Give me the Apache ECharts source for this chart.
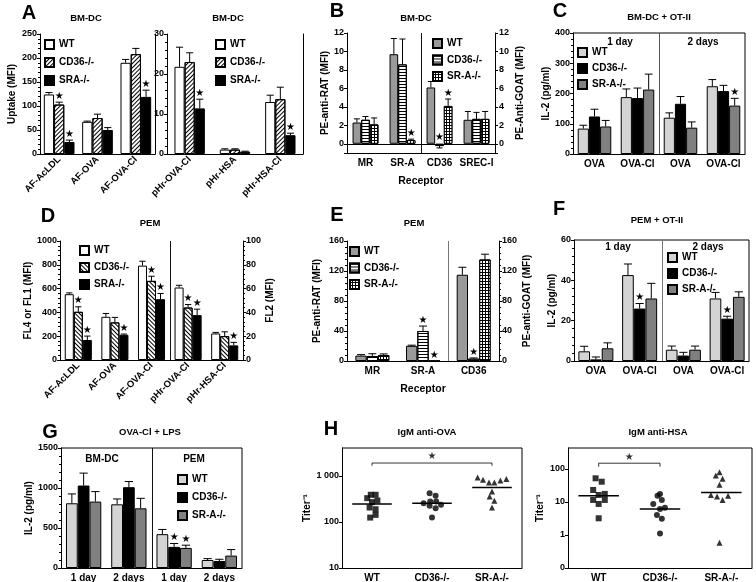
<!DOCTYPE html>
<html>
<head>
<meta charset="utf-8">
<script src="https://cdn.jsdelivr.net/npm/echarts@6/dist/echarts.min.js"></script>
<style>html,body{margin:0;padding:0;background:#fff}#chart{width:756px;height:582px}</style>
</head>
<body>
<div id="chart"></div>
<script>
var chart = echarts.init(document.getElementById('chart'));
var F = 'Liberation Sans, Arial, sans-serif';

// ---------- data ----------
// A: BM-DC uptake, AF probes
var catA1 = ['AF-AcLDL', 'AF-OVA', 'AF-OVA-Cl'];
var a1WT = [124, 67, 190], a1WTe = [4, 1.5, 7];
var a1CD = [103, 75, 208], a1CDe = [5, 8, 12];
var a1SR = [25, 50, 119], a1SRe = [4, 5, 14];
var a1CDs = [1, 0, 0], a1SRs = [1, 0, 1];
// A: BM-DC uptake, pHr probes
var catA2 = ['pHr-OVA-Cl', 'pHr-HSA', 'pHr-HSA-Cl'];
var a2WT = [21.8, 1.1, 13], a2WTe = [4.9, 0.2, 1.7];
var a2CD = [23, 1.1, 13.7], a2CDe = [2.3, 0.2, 3];
var a2SR = [11.4, 0.6, 4.7], a2SRe = [2.3, 0.1, 0.5];
var a2SRs = [1, 0, 1];
// B: receptor staining BM-DC
var catB = ['MR', 'SR-A', 'CD36', 'SREC-I'];
var bWT = [2.3, 9.7, 6.1, 2.6], bWTe = [0.4, 1.7, 0.65, 0.9];
var bCD = [2.6, 8.6, -0.25, 2.7], bCDe = [0.35, 2.75, 0.2, 0.7];
var bSR = [2.1, 0.4, 4.1, 2.7], bSRe = [0.7, 0.1, 0.75, 0.8];
var bCDs = [0, 0, 1, 0], bSRs = [0, 1, 1, 0];
// C: BM-DC + OT-II
var catC = ['OVA', 'OVA-Cl', 'OVA', 'OVA-Cl'];
var cWT = [84, 188, 120, 224], cWTe = [11, 27, 16, 22];
var cCD = [124, 185, 166, 208], cCDe = [24, 33, 24, 19];
var cSR = [91, 213, 87, 160], cSRe = [20, 51, 19, 24];
var cSRs = [0, 0, 0, 1];
// D: PEM uptake
var catD = ['AF-AcLDL', 'AF-OVA', 'AF-OVA-Cl', 'pHr-OVA-Cl', 'pHr-HSA-Cl'];
var dWT = [553, 363, 793, 609, 223], dWTe = [11, 28, 37, 19, 9];
var dCD = [405, 316, 665, 441, 201], dCDe = [42, 42, 39, 25, 36];
var dSR = [168, 212, 511, 377, 123], dSRe = [33, 6, 48, 50, 25];
var dCDs = [1, 0, 1, 1, 0], dSRs = [1, 1, 1, 1, 1];
// E: receptor staining PEM
var catE = ['MR', 'SR-A', 'CD36'];
var eWT = [7.2, 20.2, 115], eWTe = [1.3, 0.9, 10];
var eCD = [6.7, 40, 3.1], eCDe = [3, 6.6, 1];
var eSR = [8, 0, 135.4], eSRe = [1.4, 0, 7];
var eCDs = [0, 1, 1], eSRs = [0, 1, 0];
// F: PEM + OT-II
var catF = ['OVA', 'OVA-Cl', 'OVA', 'OVA-Cl'];
var fWT = [4.8, 42.6, 5.6, 31], fWTe = [2.5, 5.5, 1.8, 3];
var fCD = [0.8, 26, 2.7, 21], fCDe = [1.2, 2.5, 1.6, 1.2];
var fSR = [6.3, 31, 5.6, 31.8], fSRe = [2.7, 7.5, 1.8, 2.5];
var fCDs = [0, 1, 0, 1];
// G: OVA-Cl + LPS
var catG = ['1 day', '2 days', '1 day', '2 days'];
var gWT = [809, 796, 423, 100], gWTe = [117, 67, 59, 17];
var gCD = [1031, 1010, 264, 88], gCDe = [155, 71, 42, 21];
var gSR = [830, 746, 251, 155], gSRe = [125, 125, 34, 75];
var gCDs = [0, 0, 1, 0], gSRs = [0, 0, 1, 0];
// H: IgM titers (value, horizontal jitter)
var hCats = ['WT', 'CD36-/-', 'SR-A-/-'];
var ovaWT = [327, 387, 387, 291, 268, 205, 188, 124, 142];
var ovaWTdx = [-0.08, -0.02, 0.06, 0.09, 0, -0.04, 0.06, -0.03, 0.06];
var ovaCD = [420, 367, 254, 277, 277, 234, 223, 198, 124];
var ovaCDdx = [-0.04, 0.06, -0.14, -0.03, 0.07, 0.15, -0.04, 0.06, 0];
var ovaSR = [920, 818, 716, 716, 792, 846, 456, 355, 287, 205];
var ovaSRdx = [-0.24, -0.15, -0.05, 0.04, 0.14, 0.24, 0, -0.04, 0.04, 0];
var ovaMed = [245, 254, 557];
var hsaWT = [52, 41, 23, 16.3, 17.5, 11.5, 11.5, 8.7, 3.2];
var hsaWTdx = [-0.05, 0.05, -0.09, 0, 0.1, -0.09, 0.1, 0, 0];
var hsaCD = [15.3, 17.5, 8.7, 11.5, 6.1, 6.7, 4.0, 3.1, 1.1];
var hsaCDdx = [-0.04, 0, -0.11, 0.03, 0, 0.08, -0.05, 0.03, 0];
var hsaSR = [79, 63, 50, 33, 16.2, 14.5, 11.5, 15.3, 0.58];
var hsaSRdx = [-0.03, -0.09, 0.02, -0.03, -0.17, -0.07, 0.02, 0.11, -0.03];
var hsaMed = [15.5, 6.1, 19.2];

// ---------- styles ----------
var bd = {borderColor: '#000', borderWidth: 1};
var hatch = function (rot) {
    return {symbol: 'rect', symbolSize: 1, dashArrayX: [1, 0], dashArrayY: [1, 2], rotation: rot, color: '#000'};
};
var stA = [
    Object.assign({color: '#fff'}, bd),
    Object.assign({color: '#fff', decal: hatch(-Math.PI / 4)}, bd),
    Object.assign({color: '#000'}, bd)
];
var stD = [stA[0], Object.assign({color: '#fff', decal: hatch(Math.PI / 4)}, bd), stA[2]];
var stB = [
    Object.assign({color: '#9a9a9a'}, bd),
    Object.assign({color: '#fff', decal: {symbol: 'rect', symbolSize: 1, dashArrayX: [1, 0], dashArrayY: [1, 2], color: '#000'}}, bd),
    Object.assign({color: '#000', decal: {symbol: 'rect', symbolSize: 1, dashArrayX: [2, 1], dashArrayY: [2, 1], color: '#fff'}}, bd)
];
var stC = [
    Object.assign({color: '#d4d4d4'}, bd),
    Object.assign({color: '#000'}, bd),
    Object.assign({color: '#808080'}, bd)
];

// ---------- helpers ----------
function bars(g, tag, names, vals, styles, gap) {
    return vals.map(function (v, k) {
        return {
            type: 'bar', name: names[k] + '|' + tag, xAxisIndex: g, yAxisIndex: g, data: v,
            barGap: '0%', barCategoryGap: (gap * 100) + '%', itemStyle: styles[k], silent: true, z: 2
        };
    });
}

function errs(g, vals, es, stars, k, gap) {
    return {
        type: 'custom', xAxisIndex: g, yAxisIndex: g, z: 3, silent: true,
        data: vals.map(function (v, i) { return [i, v, es[i], stars ? stars[i] : 0]; }),
        renderItem: function (params, api) {
            var i = api.value(0), v = api.value(1), e = api.value(2), s = api.value(3);
            var bw = api.size([1, 0])[0] * (1 - gap) / 3;
            var x = api.coord([i, 0])[0] + (k - 1) * bw;
            var y0 = api.coord([i, v])[1];
            var y1 = api.coord([i, v < 0 ? v - e : v + e])[1];
            var c = bw * 0.35;
            var out = [];
            if (e > 0) {
                out.push({type: 'line', shape: {x1: x, y1: y0, x2: x, y2: y1}, style: {stroke: '#000', lineWidth: 1}});
                out.push({type: 'line', shape: {x1: x - c, y1: y1, x2: x + c, y2: y1}, style: {stroke: '#000', lineWidth: 1}});
            }
            if (s) {
                out.push({type: 'text', x: x, y: Math.min(y1, api.coord([i, 0])[1]) - 1,
                    style: {text: '\u2605', fontSize: 10, fontFamily: 'DejaVu Sans', textAlign: 'center', textVerticalAlign: 'bottom', fill: '#000'}});
            }
            return {type: 'group', children: out};
        }
    };
}

function panel(g, tag, names, sets, styles, gap) {
    var list = bars(g, tag, names, sets.map(function (s) { return s[0]; }), styles, gap);
    sets.forEach(function (s, k) { list.push(errs(g, s[0], s[1], s[2], k, gap)); });
    return list;
}

// frame sides and category dividers drawn in the grid's own coordinates
function deco(xa, ya, y, o) {
    return {
        type: 'custom', xAxisIndex: xa, yAxisIndex: ya, silent: true, z: 4, data: [[0, y]],
        renderItem: function (p, api) {
            var r = p.coordSys, out = [];
            var ln = function (x1, y1, x2, y2, c) {
                return {type: 'line', shape: {x1: x1, y1: y1, x2: x2, y2: y2}, style: {stroke: c || '#000', lineWidth: 1}};
            };
            if (o.top) out.push(ln(r.x, r.y, r.x + r.width, r.y));
            if (o.right) out.push(ln(r.x + r.width, r.y, r.x + r.width, r.y + r.height));
            if (o.div != null) {
                var x = Math.round((api.coord([o.div - 1, y])[0] + api.coord([o.div, y])[0]) / 2) + 0.5;
                out.push(ln(x, r.y, x, r.y + r.height, o.color));
            }
            return {type: 'group', children: out};
        }
    };
}

var plain = function (v) { return String(v); };
function xCat(g, data, o) {
    return Object.assign({
        type: 'category', gridIndex: g, data: data,
        axisLine: {onZero: false, lineStyle: {color: '#000', width: 1}},
        axisTick: {show: false},
        axisLabel: {color: '#000', fontSize: 10, fontWeight: 'bold', fontFamily: F, margin: 5, interval: 0},
        splitLine: {show: false}
    }, o);
}
var rot = {color: '#000', fontSize: 9.5, fontWeight: 'bold', fontFamily: F, margin: 4, interval: 0, rotate: 45};

function yVal(g, min, max, interval, name, gap, o) {
    return Object.assign({
        type: 'value', gridIndex: g, min: min, max: max, interval: interval,
        name: name, nameLocation: 'middle', nameGap: gap,
        nameTextStyle: {color: '#000', fontSize: 10, fontWeight: 'bold', fontFamily: F},
        axisLine: {show: true, lineStyle: {color: '#000', width: 1}},
        axisTick: {show: true, length: 3, lineStyle: {color: '#000'}},
        minorTick: {show: true, length: 2, splitNumber: 5, lineStyle: {color: '#000'}},
        splitLine: {show: false},
        axisLabel: {color: '#000', fontSize: 9, fontWeight: 'bold', fontFamily: F, margin: 3, formatter: plain}
    }, o);
}
function frame(g) {
    return {type: 'value', gridIndex: g, position: 'right', axisLine: {show: true, lineStyle: {color: '#000'}},
        axisTick: {show: false}, axisLabel: {show: false}, splitLine: {show: false}};
}
var logLab = function (v) {
    var p = Math.round(Math.log10(v));
    if (p < 0) return '0';
    return String(Math.pow(10, p)).replace(/\B(?=(\d{3})+(?!\d))/g, ' ');
};

function leg(tag, names, left, top, gap) {
    return {
        orient: 'vertical', left: left, top: top, padding: 0, itemGap: gap,
        itemWidth: 9, itemHeight: 9, icon: 'rect', selectedMode: false,
        data: names.map(function (n) { return n + '|' + tag; }),
        formatter: function (n) { return n.split('|')[0]; },
        textStyle: {color: '#000', fontSize: 10, fontWeight: 'bold', fontFamily: F}
    };
}

function dots(xa, ya, vals, dx, c, sym, size) {
    return {type: 'scatter', xAxisIndex: xa, yAxisIndex: ya, symbol: sym, symbolSize: size, silent: true,
        itemStyle: {color: '#000'}, data: vals.map(function (v, i) { return [c + dx[i], v]; })};
}
function medLine(xa, ya, meds) {
    return {type: 'custom', xAxisIndex: xa, yAxisIndex: ya, silent: true, z: 3,
        data: meds.map(function (m, i) { return [i + 1, m]; }),
        renderItem: function (p, api) {
            var a = api.coord([api.value(0) - 0.33, api.value(1)]);
            var b = api.coord([api.value(0) + 0.33, api.value(1)]);
            return {type: 'line', shape: {x1: a[0], y1: a[1], x2: b[0], y2: b[1]}, style: {stroke: '#000', lineWidth: 1.5}};
        }};
}
function bracket(xa, ya, from, to, level, drop, starAt) {
    return [
        {type: 'line', xAxisIndex: xa, yAxisIndex: ya, symbol: 'none', silent: true,
            lineStyle: {color: '#000', width: 0.8},
            data: [[from, drop], [from, level], [to, level], [to, drop]]},
        {type: 'scatter', xAxisIndex: xa, yAxisIndex: ya, symbolSize: 0, silent: true,
            data: [[(from + to) / 2, starAt]],
            label: {show: true, position: 'inside', formatter: '\u2605', color: '#000', fontSize: 10, fontFamily: 'DejaVu Sans'}}
    ];
}

// ---------- layout ----------
var grids = [
    {left: 40, top: 34, width: 115, height: 120},
    {left: 167, top: 34, width: 136, height: 120},
    {left: 347, top: 33, width: 148, height: 120},
    {left: 573, top: 33, width: 172, height: 121},
    {left: 60, top: 241, width: 183, height: 119},
    {left: 347, top: 241, width: 152, height: 120},
    {left: 574, top: 240, width: 175, height: 121},
    {left: 61, top: 448, width: 181, height: 120},
    {left: 342, top: 448, width: 180, height: 120},
    {left: 568, top: 448, width: 184, height: 120}
].map(function (g) {
    return Object.assign({outerBoundsMode: 'none', containLabel: false}, g);
});

var nameX = {color: '#000', fontSize: 10.5, fontWeight: 'bold', fontFamily: F};
var xAxes = [
    xCat(0, catA1, {axisLabel: rot}),
    xCat(1, catA2, {axisLabel: rot}),
    xCat(2, catB, {name: 'Receptor', nameLocation: 'middle', nameGap: 23, nameTextStyle: nameX}),
    xCat(3, catC),
    xCat(4, catD, {axisLabel: rot}),
    xCat(5, catE, {name: 'Receptor', nameLocation: 'middle', nameGap: 23, nameTextStyle: nameX}),
    xCat(6, catF),
    xCat(7, catG),
    xCat(8, hCats),
    xCat(9, hCats),
    {type: 'value', gridIndex: 8, min: 0.5, max: 3.5, show: false},
    {type: 'value', gridIndex: 9, min: 0.5, max: 3.5, show: false}
];

var hideNeg = function (v) { return v < 0 ? '' : String(v); };
var labB = {color: '#000', fontSize: 9, fontWeight: 'bold', fontFamily: F, margin: 3, formatter: hideNeg};
var labLog = {color: '#000', fontSize: 9, fontWeight: 'bold', fontFamily: F, margin: 3, formatter: logLab, showMaxLabel: false};
var yAxes = [
    yVal(0, 0, 250, 50, 'Uptake (MFI)', 23),
    yVal(1, 0, 30, 10, '', 0),
    yVal(2, -1, 12, null, 'PE-anti-RAT (MFI)', 17, {splitNumber: 6, minorTick: {show: false}, axisLabel: labB}),
    yVal(3, 0, 400, 100, 'IL-2 (pg/ml)', 21),
    yVal(4, 0, 1000, 200, 'FL4 or FL1 (MFI)', 25),
    yVal(5, 0, 160, 40, 'PE-anti-RAT (MFI)', 25),
    yVal(6, 0, 60, 20, 'IL-2 (pg/ml)', 17),
    yVal(7, 0, 1500, 500, 'IL-2 (pg/ml)', 26),
    yVal(8, 10, 4000, null, 'Titer\u207B\u00B9', 22, {type: 'log', logBase: 10, minorTick: {show: false}, axisLabel: labLog}),
    yVal(9, 0.1, 430, null, 'Titer\u207B\u00B9', 23, {type: 'log', logBase: 10, minorTick: {show: false}, axisLabel: labLog}),
    frame(0),
    frame(1),
    yVal(2, -1, 12, null, 'PE-Anti-GOAT (MFI)', 20, {position: 'right', splitNumber: 6, minorTick: {show: false},
        axisLabel: Object.assign({}, labB, {margin: 4})}),
    yVal(4, 0, 100, 20, 'FL2 (MFI)', 22, {position: 'right'}),
    yVal(5, 0, 160, 40, 'PE-anti-GOAT (MFI)', 23, {position: 'right'})
];

var nA = ['WT', 'CD36-/-', 'SRA-/-'];
var nB = ['WT', 'CD36-/-', 'SR-A-/-'];

var series = [].concat(
    panel(0, 'A1', nA, [[a1WT, a1WTe], [a1CD, a1CDe, a1CDs], [a1SR, a1SRe, a1SRs]], stA, 0.2),
    panel(1, 'A2', nA, [[a2WT, a2WTe], [a2CD, a2CDe], [a2SR, a2SRe, a2SRs]], stA, 0.33),
    panel(2, 'B', nB, [[bWT, bWTe], [bCD, bCDe, bCDs], [bSR, bSRe, bSRs]], stB, 0.3),
    panel(3, 'C', nB, [[cWT, cWTe], [cCD, cCDe], [cSR, cSRe, cSRs]], stC, 0.22),
    panel(4, 'D', nA, [[dWT, dWTe], [dCD, dCDe, dCDs], [dSR, dSRe, dSRs]], stD, 0.26),
    panel(5, 'E', nB, [[eWT, eWTe], [eCD, eCDe, eCDs], [eSR, eSRe, eSRs]], stB, 0.33),
    panel(6, 'F', nB, [[fWT, fWTe], [fCD, fCDe, fCDs], [fSR, fSRe]], stC, 0.2),
    panel(7, 'G', nB, [[gWT, gWTe], [gCD, gCDe, gCDs], [gSR, gSRe, gSRs]], stC, 0.22),
    [
        deco(2, 2, 0, {div: 2, color: '#111'}),
        deco(3, 3, 0, {top: true, right: true, div: 2, color: '#555'}),
        deco(4, 4, 0, {div: 3, color: '#111'}),
        deco(5, 5, 0, {div: 2, color: '#777'}),
        deco(6, 6, 0, {top: true, right: true, div: 2, color: '#777'}),
        deco(7, 7, 0, {top: true, right: true, div: 2, color: '#111'}),
        deco(8, 8, 100, {top: true, right: true}),
        deco(9, 9, 1, {top: true, right: true}),
        dots(10, 8, ovaWT, ovaWTdx, 1, 'rect', 6),
        dots(10, 8, ovaCD, ovaCDdx, 2, 'circle', 6),
        dots(10, 8, ovaSR, ovaSRdx, 3, 'triangle', 6),
        medLine(10, 8, ovaMed),
        dots(11, 9, hsaWT, hsaWTdx, 1, 'rect', 6),
        dots(11, 9, hsaCD, hsaCDdx, 2, 'circle', 6),
        dots(11, 9, hsaSR, hsaSRdx, 3, 'triangle', 6),
        medLine(11, 9, hsaMed)
    ],
    bracket(10, 8, 1, 3, 1890, 1650, 2600),
    bracket(11, 9, 1, 2, 149, 117, 228)
);
// zero reference line in B (first bar series of panel B)
series[12].markLine = {silent: true, symbol: 'none', label: {show: false},
    lineStyle: {color: '#000', type: 'solid', width: 1}, data: [{yAxis: 0}]};

// ---------- annotation text ----------
var notes = [
    ['A', 29, 13, 20], ['B', 337, 11, 20], ['C', 560, 11, 20], ['D', 48, 216, 20],
    ['E', 337, 215, 20], ['F', 559, 209, 20], ['G', 50, 432, 20], ['H', 331, 429, 20],
    ['BM-DC', 86, 18, 9.5], ['BM-DC', 228, 18, 9.5], ['BM-DC', 416, 18, 9.5], ['BM-DC + OT-II', 659, 17, 9.5],
    ['PEM', 150, 223, 9.5], ['PEM', 414, 223, 9.5], ['PEM + OT-II', 657, 220, 9.5],
    ['OVA-Cl + LPS', 150, 432, 9.5], ['IgM anti-OVA', 427, 432, 9.5], ['IgM anti-HSA', 658, 432, 9.5],
    ['1 day', 620, 42, 10], ['2 days', 703, 42, 10], ['1 day', 618, 247, 10], ['2 days', 708, 247, 10],
    ['BM-DC', 102, 459, 10], ['PEM', 194, 459, 10]
];
var graphic = notes.map(function (t) {
    return {type: 'text', x: t[1], y: t[2], silent: true,
        style: {text: t[0], fontSize: t[3], fontWeight: 'bold', fontFamily: F, fill: '#000',
            textAlign: 'center', textVerticalAlign: 'middle'}};
});

chart.setOption({
    animation: false,
    backgroundColor: '#fff',
    textStyle: {fontFamily: F},
    grid: grids,
    xAxis: xAxes,
    yAxis: yAxes,
    legend: [
        leg('A1', nA, 44, 39, 7),
        leg('A2', nA, 215, 39, 7),
        leg('B', nB, 432, 38, 5.5),
        leg('C', nB, 577, 47, 5),
        leg('D', nA, 79, 245, 6),
        leg('E', nB, 349, 246, 5.5),
        leg('F', nB, 667, 252, 5),
        leg('G', nB, 177, 474, 7)
    ],
    series: series,
    graphic: graphic
});
</script>
</body>
</html>
